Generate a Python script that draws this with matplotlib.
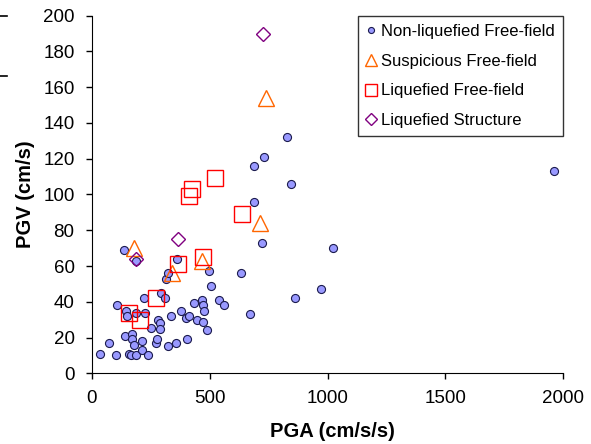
import matplotlib.pyplot as plt
from matplotlib.lines import Line2D

plt.rcParams['font.family'] = ['Liberation Sans', 'DejaVu Sans']

# Non-liquefied free-field (PGA, PGV)
nonliq_pga = [35, 72, 104, 108, 140, 144, 150, 135, 157, 167, 171, 172, 179, 187,
              187, 188, 213, 213, 223, 225, 240, 252, 274, 278, 281, 291, 291, 294,
              310, 314, 322, 325, 336, 356, 363, 378, 400, 405, 411, 434, 447, 466,
              471, 471, 475, 489, 497, 507, 540, 560, 635, 672, 688, 690, 721, 732,
              828, 846, 863, 974, 1025, 1962]
nonliq_pgv = [11, 17, 10, 38, 21, 35, 32, 69, 11, 10, 22, 19, 16, 10,
              63, 34, 18, 13, 42, 34, 10, 25.5, 17, 19, 30, 28, 25, 45,
              42, 53, 56, 15, 32, 17, 64, 35, 31, 19, 32, 39.5, 30, 41,
              38, 28.5, 35, 24, 57, 49, 41, 38, 56, 33, 116, 96, 73, 121,
              132, 106, 42, 47, 70, 113]

# Suspicious free-field
susp_pga = [180, 339, 466, 714, 739]
susp_pgv = [70, 56, 63, 84, 154]

# Liquefied free-field
liq_pga = [160, 206, 273, 366, 471, 413, 425, 522, 637]
liq_pgv = [34, 30, 42, 61, 65, 99, 103, 109, 89]

# Liquefied structure
struct_pga = [188, 366, 725]
struct_pgv = [64, 75, 190]

fig = plt.figure(figsize=(5.91, 4.44), dpi=100)
ax = fig.add_axes([91.7 / 591, 1 - 373.3 / 444, (563.3 - 91.7) / 591, (373.3 - 15.7) / 444])

ax.plot(nonliq_pga, nonliq_pgv, 'o', ms=5.8, mfc='#9999FF', mec='#1a1a4d', mew=0.8,
        ls='none', label='Non-liquefied Free-field')
ax.plot(susp_pga, susp_pgv, '^', ms=11.3, mfc='none', mec='#FF6600', mew=1.0,
        ls='none', label='Suspicious Free-field')
ax.plot(liq_pga, liq_pgv, 's', ms=11.3, mfc='none', mec='#FF0000', mew=1.0,
        ls='none', label='Liquefied Free-field')
ax.plot(struct_pga, struct_pgv, 'D', ms=7.6, mfc='none', mec='#800080', mew=1.0,
        ls='none', label='Liquefied Structure')

ax.set_xlim(0, 2000)
ax.set_ylim(0, 200)
ax.set_xticks([0, 500, 1000, 1500, 2000])
ax.set_yticks(range(0, 201, 20))
ax.spines['top'].set_visible(False)
ax.spines['right'].set_visible(False)
ax.tick_params(direction='out', length=4.3, width=1, labelsize=13.5, pad=8)
ax.set_xlabel('PGA (cm/s/s)', fontsize=14.5, fontweight='bold')
ax.set_ylabel('PGV (cm/s)', fontsize=14.5, fontweight='bold')
ax.xaxis.set_label_coords(0.51, -0.135)
ax.yaxis.set_label_coords(-0.12, 0.5)

leg = ax.legend(loc='upper left', bbox_to_anchor=(358 / 591, 1 - 15.7 / 444),
                bbox_transform=fig.transFigure, borderaxespad=0, fontsize=12,
                frameon=True, fancybox=False, edgecolor='black', markerscale=0.75,
                handlelength=0.6, handletextpad=0.3, labelspacing=0.88,
                borderpad=0.5)
leg.get_frame().set_linewidth(1.0)

# stray marks at the left edge of the screenshot
for yy in [16.5, 76]:
    fig.add_artist(Line2D([0, 7 / 591], [1 - yy / 444] * 2, color='black', lw=1.2))

fig.savefig('out.png', dpi=100)
